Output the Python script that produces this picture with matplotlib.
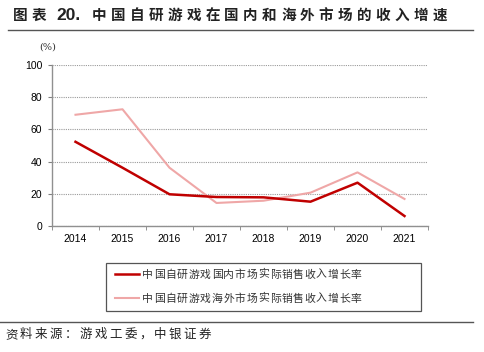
import matplotlib
matplotlib.use("Agg")
import matplotlib.pyplot as plt
from matplotlib.lines import Line2D
from matplotlib.patches import Rectangle
import numpy as np

years = ["2014", "2015", "2016", "2017", "2018", "2019", "2020", "2021"]
domestic = [52.3, 36.2, 19.7, 18.0, 17.8, 15.1, 26.9, 6.2]
overseas = [69.1, 72.5, 36.2, 14.3, 15.7, 20.7, 33.3, 16.8]
yticks = [0, 20, 40, 60, 80, 100]
label_dom = "中国自研游戏国内市场实际销售收入增长率"
label_ovs = "中国自研游戏海外市场实际销售收入增长率"
title_prefix = "图表"
title_num = "20."
title_body = "中国自研游戏在国内和海外市场的收入增速"
source = "资料来源：游戏工委，中银证券"

plt.rcParams['font.family'] = ['Liberation Sans', 'Noto Sans CJK SC', 'DejaVu Sans']
cjk = ['Noto Sans CJK SC', 'DejaVu Sans']

W, H = 485, 352
fig = plt.figure(figsize=(W/100, H/100), dpi=100)


def fx(px):
    return px / W


def fy(py):
    return 1 - py / H


def spaced(text, x0, yc, step, fontsize, **kw):
    fs_px = fontsize * 100 / 72.0
    base = yc + 0.38 * fs_px
    for i, ch in enumerate(text):
        fig.text(fx(x0 + i * step + fs_px / 2), fy(base), ch, ha='center',
                 va='baseline', fontsize=fontsize, **kw)


ax = fig.add_axes([fx(52), fy(226), 376/W, 161/H])

x = np.arange(len(years))
ax.plot(x, domestic, color='#C00000', lw=1.8, zorder=3)
ax.plot(x, overseas, color='#EFA7A7', lw=1.5, zorder=2)

ax.set_xlim(-0.5, len(years) - 0.5)
ax.set_ylim(0, 100)
ax.set_yticks(yticks)
ax.set_xticks(x)
ax.set_xticklabels(years)
ax.set_xticks(np.arange(-0.5, len(years), 1.0), minor=True)
ax.tick_params(axis='x', which='major', length=0, labelsize=7.5, pad=6)
ax.tick_params(axis='x', which='minor', length=3, direction='out', color='#808080')
ax.tick_params(axis='y', length=3, direction='out', color='#808080', labelsize=7.5, pad=4)
for s in ['top', 'right']:
    ax.spines[s].set_visible(False)
for s in ['left', 'bottom']:
    ax.spines[s].set_color('#909090')
    ax.spines[s].set_linewidth(1.0)
ax.grid(axis='y', color='#9a9a9a', lw=0.8, ls=(0, (1, 1)))
ax.set_axisbelow(True)

fig.text(fx(48), fy(47), "(%)", fontsize=7, ha='center', va='center', color='#333333',
         family='DejaVu Serif')

# legend drawn manually to match the reference box
fig.add_artist(Rectangle((fx(106), fy(311)), 315/W, 48/H, transform=fig.transFigure,
                         facecolor='white', edgecolor='#555555', lw=0.9))
fig.add_artist(Line2D([fx(115), fx(139)], [fy(273.5), fy(273.5)], color='#C00000', lw=1.8))
fig.add_artist(Line2D([fx(115), fx(139)], [fy(297.5), fy(297.5)], color='#EFA7A7', lw=1.5))
spaced(label_dom, 142, 273.5, 11.6, 7.8, family=cjk, color='#333333')
spaced(label_ovs, 142, 297.5, 11.6, 7.8, family=cjk, color='#333333')

# title
tkw = dict(fontweight='bold', family=cjk, color='#222222')
spaced(title_prefix, 13, 14.5, 19, 10.5, **tkw)
fig.text(fx(56), fy(14.5 + 5.5), title_num, ha='left', va='baseline', fontsize=12.5,
         fontweight='bold', family='Liberation Sans', color='#222222')
spaced(title_body, 92, 14.5, 18.9, 10.5, **tkw)

fig.add_artist(Line2D([fx(8), fx(473)], [fy(29.5), fy(29.5)], color='#555555', lw=1.0))
fig.add_artist(Line2D([fx(0), fx(473)], [fy(322), fy(322)], color='#555555', lw=1.0))
spaced(source, 5, 333, 14.9, 9, family=cjk, color='#222222')

fig.savefig("out.png", dpi=100)
